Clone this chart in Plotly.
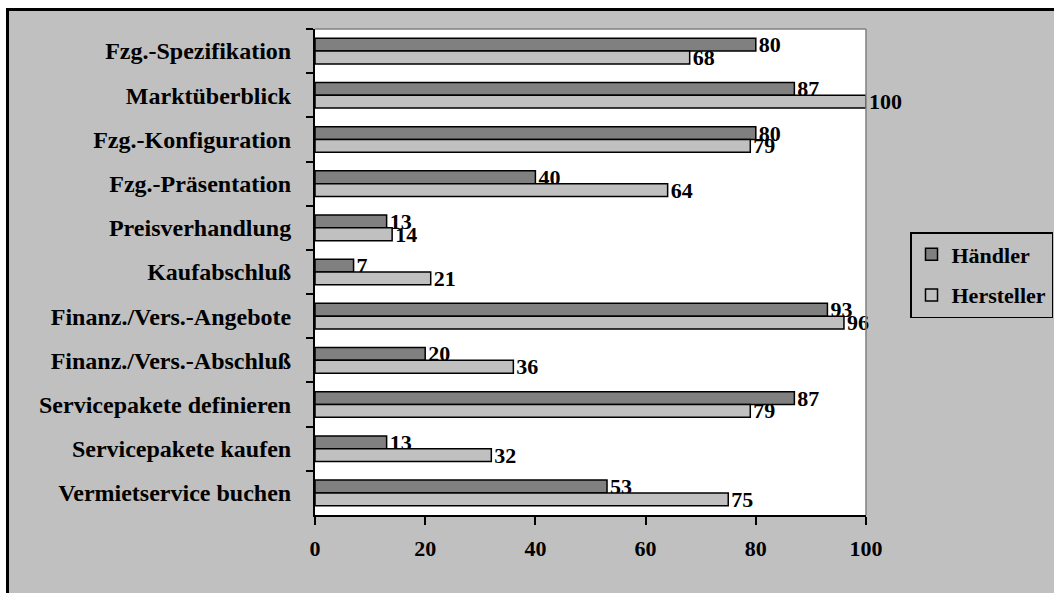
import plotly.graph_objects as go

categories = [
    "Fzg.-Spezifikation",
    "Marktüberblick",
    "Fzg.-Konfiguration",
    "Fzg.-Präsentation",
    "Preisverhandlung",
    "Kaufabschluß",
    "Finanz./Vers.-Angebote",
    "Finanz./Vers.-Abschluß",
    "Servicepakete definieren",
    "Servicepakete kaufen",
    "Vermietservice buchen",
]
haendler = [80, 87, 80, 40, 13, 7, 93, 20, 87, 13, 53]
hersteller = [68, 100, 79, 64, 14, 21, 96, 36, 79, 32, 75]
x_ticks = [0, 20, 40, 60, 80, 100]

W, H = 1054, 593
L, R, T, B = 315, 866, 29, 515  # plot area in pixels

FONT = "Liberation Serif, Times New Roman, serif"
FS_CAT = 24
FS_NUM = 22


def px_x(p):
    return (p - L) / (R - L)


def px_y(p):
    return (B - p) / (B - T)


fig = go.Figure()
fig.add_trace(go.Bar(
    name="Händler", y=categories, x=haendler, orientation="h",
    marker=dict(color="#808080", line=dict(color="black", width=1.5)),
    text=[str(v) for v in haendler], textposition="outside",
    constraintext="none", cliponaxis=False,
    textfont=dict(family=FONT, size=FS_NUM, color="black", weight="bold"),
    legendgroup="h",
))
fig.add_trace(go.Bar(
    name="Hersteller", y=categories, x=hersteller, orientation="h",
    marker=dict(color="#c0c0c0", line=dict(color="black", width=1.5)),
    text=[str(v) for v in hersteller], textposition="outside",
    constraintext="none", cliponaxis=False,
    textfont=dict(family=FONT, size=FS_NUM, color="black", weight="bold"),
    legendgroup="s",
))

shapes = [
    # white margin strips and the black frame of the chart
    dict(type="rect", xref="paper", yref="paper", x0=px_x(-5), x1=px_x(7),
         y0=px_y(H + 5), y1=px_y(-5), fillcolor="white", line=dict(width=0)),
    dict(type="rect", xref="paper", yref="paper", x0=px_x(-5), x1=px_x(W + 5),
         y0=px_y(8), y1=px_y(-5), fillcolor="white", line=dict(width=0)),
    dict(type="line", xref="paper", yref="paper", x0=px_x(7.5), x1=px_x(7.5),
         y0=px_y(8), y1=px_y(H + 5), line=dict(color="black", width=3)),
    dict(type="line", xref="paper", yref="paper", x0=px_x(6), x1=px_x(W + 5),
         y0=px_y(9.5), y1=px_y(9.5), line=dict(color="black", width=3)),
    # grey border on top and right of the plot area
    dict(type="line", xref="paper", yref="paper", x0=0, x1=1, y0=1, y1=1,
         line=dict(color="#808080", width=1.5)),
    dict(type="line", xref="paper", yref="paper", x0=1, x1=1, y0=0, y1=1,
         line=dict(color="#808080", width=1.5)),
]

fig.update_layout(
    width=W, height=H,
    margin=dict(l=L, r=W - R, t=T, b=H - B, pad=0, autoexpand=False),
    paper_bgcolor="#c0c0c0",
    plot_bgcolor="white",
    barmode="group",
    bargap=0.42,
    bargroupgap=0,
    font=dict(family=FONT, size=FS_NUM, color="black", weight="bold"),
    showlegend=True,
    legend=dict(
        x=px_x(910), y=px_y(232), xanchor="left", yanchor="top",
        bgcolor="#c0c0c0", bordercolor="black", borderwidth=1.5,
        font=dict(family=FONT, size=FS_NUM, color="black", weight="bold"),
        tracegroupgap=9, itemwidth=30,
    ),
    shapes=shapes,
    xaxis=dict(
        range=[0, 100], tickvals=x_ticks, ticktext=[str(v) for v in x_ticks],
        showgrid=False, zeroline=False,
        showline=True, linecolor="black", linewidth=2,
        ticks="outside", ticklen=8, tickwidth=1.5, tickcolor="black",
        ticklabelstandoff=5,
        tickfont=dict(family=FONT, size=FS_NUM, color="black", weight="bold"),
        fixedrange=True,
    ),
    yaxis=dict(
        autorange="reversed", type="category",
        showgrid=False, zeroline=False,
        showline=True, linecolor="black", linewidth=2,
        ticks="outside", ticklen=7, tickwidth=1.5, tickcolor="black",
        tickson="boundaries", ticklabelstandoff=17,
        tickfont=dict(family=FONT, size=FS_CAT, color="black", weight="bold"),
        fixedrange=True,
    ),
)

fig.write_html("out.html")
